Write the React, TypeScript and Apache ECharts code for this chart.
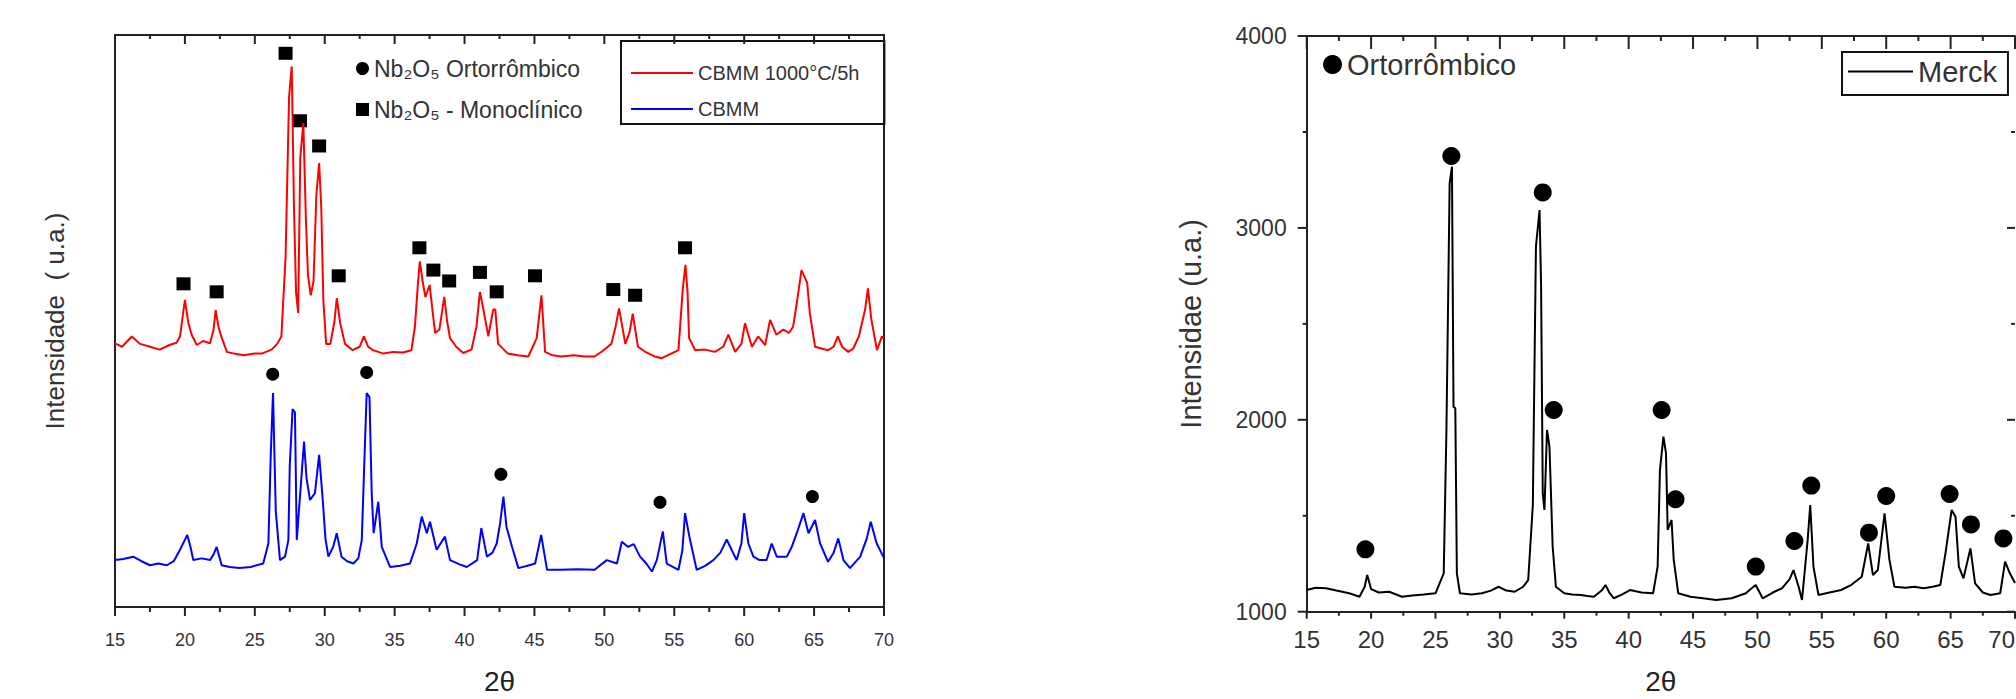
import React, { useEffect, useRef } from "react";
import * as echarts from "echarts";

const FONT = "'Liberation Sans', Arial, sans-serif";

// ---- axes ----
const xMin = 15;
const xMax = 70;
const xStep = 5;
const xMajorTicks = [15, 20, 25, 30, 35, 40, 45, 50, 55, 60, 65, 70];
const xMinorTicks = [17.5, 22.5, 27.5, 32.5, 37.5, 42.5, 47.5, 52.5, 57.5, 62.5, 67.5];

// ---- Left chart: CBMM samples (arbitrary units) ----
const leftYMin = 0;
const leftYMax = 100;

const cbmm1000: [number, number][] = [
  [15.0, 46.1], [15.5, 45.5], [16.2, 47.3], [16.8, 46.0], [17.5, 45.5], [18.2, 45.0], [18.9, 45.8], [19.4, 46.2],
  [19.65, 47.3], [19.85, 51], [20.0, 53.7], [20.25, 49.6], [20.5, 47.5], [20.85, 45.8], [21.3, 46.5], [21.8, 46.1],
  [22.05, 48.5], [22.2, 51.9], [22.4, 49], [22.6, 47.3], [23.0, 44.6], [23.5, 44.3], [24.2, 44.0], [25.0, 44.3],
  [25.5, 44.3], [26.2, 45.0], [26.6, 46], [26.9, 47.3], [27.2, 61.2], [27.45, 89.2], [27.64, 94.5], [27.8, 70],
  [27.95, 55], [28.1, 51.4], [28.25, 78.5], [28.47, 84.6], [28.65, 68], [28.8, 58], [29.0, 54.5], [29.2, 57],
  [29.4, 72], [29.6, 77.6], [29.75, 70], [29.9, 53.7], [30.1, 46.0], [30.4, 46], [30.7, 50], [30.86, 54],
  [31.1, 49.7], [31.45, 46], [32.0, 44.9], [32.5, 45.5], [32.8, 47.3], [33.1, 45.5], [33.45, 44.9], [34.2, 44.3],
  [34.9, 44.6], [35.6, 44.5], [36.2, 44.9], [36.45, 49], [36.65, 56], [36.8, 60.4], [37.0, 57], [37.2, 54.2],
  [37.5, 56.3], [37.7, 52], [37.9, 47.9], [38.2, 48.5], [38.55, 54.2], [38.75, 50], [38.96, 47], [39.4, 45.5],
  [39.9, 44.4], [40.5, 45], [40.85, 49], [41.1, 55.1], [41.35, 52], [41.7, 47.3], [42.05, 52], [42.2, 52],
  [42.4, 46], [43.1, 44.3], [43.8, 44.0], [44.56, 43.8], [45.16, 47], [45.5, 54.5], [45.76, 44.6], [46.3, 44.0],
  [46.9, 43.8], [47.8, 44.0], [48.6, 43.8], [49.3, 43.8], [49.9, 44.8], [50.5, 46], [50.8, 49], [51.05, 52.2],
  [51.5, 46], [51.8, 48], [52.03, 51.3], [52.4, 45.5], [53.0, 44.5], [53.6, 43.8], [54.1, 43.5], [54.7, 44.2],
  [55.3, 44.9], [55.6, 55.4], [55.8, 59.8], [55.95, 55], [56.06, 47], [56.5, 44.9], [57.2, 45.0], [57.9, 44.6],
  [58.5, 45.5], [58.87, 47.6], [59.35, 44.6], [59.8, 46], [60.06, 49.6], [60.55, 45.5], [61.0, 47.3], [61.5, 45.8],
  [61.85, 50.2], [62.3, 47.6], [62.8, 48.5], [63.2, 47.9], [63.5, 49], [63.76, 53.1], [64.1, 58.9], [64.5, 56.7],
  [64.7, 51.3], [65.07, 45.5], [65.5, 45.2], [66.0, 44.9], [66.4, 45.5], [66.7, 47.3], [67.0, 45.5], [67.45, 44.6],
  [67.8, 45.2], [68.2, 47.3], [68.65, 52], [68.85, 55.7], [69.1, 50.2], [69.5, 44.9], [69.85, 47.3], [70.0, 47.0],
];

const cbmm: [number, number][] = [
  [15.0, 8.2], [15.6, 8.4], [16.3, 8.8], [16.9, 8.0], [17.5, 7.3], [18.1, 7.6], [18.7, 7.3], [19.2, 8.0],
  [19.65, 10.0], [20.17, 12.6], [20.4, 10.5], [20.6, 8.2], [21.2, 8.5], [21.8, 8.2], [22.05, 9.2], [22.27, 10.5],
  [22.63, 7.3], [23.2, 7.0], [23.9, 6.8], [24.7, 7.0], [25.6, 7.6], [25.97, 11.1], [26.14, 26.6], [26.3, 37.4],
  [26.5, 16.7], [26.8, 8.2], [27.16, 8.8], [27.4, 11.7], [27.5, 24.8], [27.7, 34.6], [27.87, 34.0], [28.0, 11.7],
  [28.23, 19.3], [28.52, 28.9], [28.7, 22.5], [28.95, 18.7], [29.3, 19.9], [29.6, 26.6], [29.86, 18.7], [30.05, 12],
  [30.26, 8.8], [30.6, 10.5], [30.86, 12.9], [31.2, 8.8], [31.6, 8.0], [32.05, 7.6], [32.4, 8.5], [32.65, 11.7],
  [32.83, 25.1], [33.0, 37.4], [33.2, 36.7], [33.36, 19.9], [33.5, 12.9], [33.83, 18.4], [34.08, 10.5], [34.67, 7.0],
  [35.4, 7.2], [36.1, 7.6], [36.58, 11.1], [36.94, 15.8], [37.3, 12.9], [37.53, 14.9], [38.0, 10.0], [38.6, 12.3],
  [38.96, 8.2], [39.6, 7.5], [40.16, 7.0], [40.9, 8.2], [41.2, 13.8], [41.6, 8.8], [42.0, 9.5], [42.3, 11.1],
  [42.54, 14.6], [42.78, 19.3], [43.0, 14.0], [43.4, 10.5], [43.85, 6.8], [44.5, 7.2], [45.05, 7.6], [45.48, 12.6],
  [45.9, 6.5], [46.9, 6.5], [48.1, 6.6], [49.3, 6.5], [50.17, 8.2], [50.9, 7.6], [51.25, 11.4], [51.7, 10.5],
  [52.1, 11.0], [52.55, 8.8], [53.0, 7.6], [53.4, 6.2], [53.75, 8.2], [54.18, 13.2], [54.46, 7.6], [55.3, 6.5],
  [55.58, 9.9], [55.77, 16.4], [56.08, 12.3], [56.6, 6.5], [57.2, 7.2], [57.8, 8.2], [58.3, 9.5], [58.75, 11.8],
  [59.1, 10], [59.46, 8.2], [59.8, 11.1], [60.0, 16.4], [60.3, 11.1], [60.66, 8.8], [61.1, 8.2], [61.6, 8.2],
  [61.97, 11.1], [62.33, 8.8], [63.05, 8.8], [63.4, 10.5], [63.76, 12.9], [64.24, 16.4], [64.6, 12.9], [65.07, 15.2],
  [65.43, 11.1], [66.0, 7.9], [66.4, 9.5], [66.73, 12.0], [67.1, 8.2], [67.57, 6.8], [68.3, 8.8], [68.77, 12.0],
  [69.05, 14.9], [69.48, 11.1], [69.95, 8.8], [70.0, 8.5],
];

const monoMarks: [number, number][] = [
  [19.9, 56.5], [22.27, 55.1], [27.2, 96.8], [28.23, 85], [29.6, 80.6], [31.0, 57.9], [36.77, 62.8], [37.77, 58.9],
  [38.9, 57], [41.1, 58.5], [42.3, 55.1], [45.04, 57.9], [50.64, 55.5], [52.2, 54.5], [55.77, 62.8],
];
const ortoMarks: [number, number][] = [
  [26.28, 40.7], [33.0, 41.0], [42.6, 23.2], [53.98, 18.3], [64.88, 19.3],
];

// ---- Right chart: Merck ----
const merckYMin = 1000;
const merckYMax = 4000;
const merckYStep = 1000;
const merckYMajorTicks = [1000, 2000, 3000, 4000];
const merckYMinorTicks = [1500, 2500, 3500];

const merck: [number, number][] = [
  [15.0, 1113], [15.7, 1125], [16.5, 1122], [17.3, 1110], [18.3, 1096], [19.1, 1078], [19.5, 1130], [19.7, 1191],
  [20.0, 1118], [20.6, 1100], [21.4, 1104], [22.4, 1078], [23.2, 1085], [24.1, 1090], [25.0, 1096], [25.64, 1200],
  [25.85, 1947], [26.1, 3232], [26.28, 3319], [26.4, 2068], [26.54, 2060], [26.66, 1200], [26.9, 1096], [27.8, 1090],
  [28.6, 1096], [29.3, 1110], [29.9, 1130], [30.5, 1110], [31.15, 1104], [31.8, 1130], [32.2, 1165], [32.56, 1556],
  [32.8, 2902], [33.08, 3093], [33.2, 2702], [33.33, 1617], [33.46, 1530], [33.66, 1947], [33.85, 1860], [34.1, 1339],
  [34.35, 1130], [35.0, 1096], [35.6, 1090], [36.3, 1087], [36.8, 1082], [37.3, 1078], [37.9, 1110], [38.2, 1139],
  [38.5, 1100], [38.85, 1070], [39.5, 1090], [40.1, 1113], [41.0, 1100], [41.9, 1096], [42.25, 1235], [42.43, 1738],
  [42.7, 1912], [42.9, 1825], [43.03, 1426], [43.33, 1478], [43.5, 1270], [43.85, 1096], [44.8, 1078], [45.77, 1070],
  [46.8, 1061], [48.0, 1070], [49.1, 1096], [49.5, 1120], [49.87, 1139], [50.4, 1070], [51.2, 1100], [51.9, 1122],
  [52.5, 1170], [52.8, 1217], [53.2, 1130], [53.46, 1061], [53.9, 1374], [54.1, 1556], [54.35, 1235], [54.74, 1087],
  [55.6, 1100], [56.5, 1113], [57.3, 1140], [58.1, 1182], [58.6, 1356], [58.97, 1191], [59.35, 1217], [59.87, 1513],
  [60.25, 1270], [60.64, 1130], [61.5, 1125], [62.2, 1130], [62.9, 1122], [63.6, 1130], [64.2, 1139], [64.6, 1304],
  [65.08, 1530], [65.38, 1495], [65.64, 1235], [66.0, 1174], [66.54, 1330], [66.9, 1148], [67.5, 1100], [68.1, 1087],
  [68.85, 1096], [69.23, 1261], [69.6, 1200], [70.0, 1150],
];

const merckOrtoMarks: [number, number][] = [
  [19.56, 1325], [26.23, 3375], [33.33, 3185], [34.18, 2051], [42.56, 2051], [43.64, 1586], [49.87, 1235],
  [52.87, 1368], [54.18, 1657], [58.66, 1412], [60.0, 1603], [64.92, 1613], [66.58, 1455], [69.1, 1382],
];

const S_RED = "CBMM 1000°C/5h";
const S_BLUE = "CBMM";
const S_ORTO = "Nb₂O₅ Ortorrômbico";
const S_MONO = "Nb₂O₅ - Monoclínico";
const S_MERCK = "Merck";
const S_MORTO = "Ortorrômbico";

const AX = "#222";

function xAxisCfg(grid: number, top: boolean, opts: any) {
  return {
    type: "value",
    gridIndex: grid,
    position: top ? "top" : "bottom",
    min: xMin,
    max: xMax,
    interval: xStep,
    axisLine: { show: true, onZero: false, lineStyle: { color: AX, width: 2 } },
    axisTick: { show: false },
    minorTick: { show: false },
    axisLabel: top
      ? { show: false }
      : {
          show: true,
          fontSize: opts.fontSize,
          margin: opts.margin,
          color: "#333",
          fontFamily: FONT,
          alignMaxLabel: opts.alignMax || null,
        },
    splitLine: { show: false },
    name: top ? "" : "2θ",
    nameLocation: "middle",
    nameGap: opts.nameGap,
    nameTextStyle: { fontSize: 28, color: "#222", fontFamily: FONT },
  };
}

export default function App() {
  const ref = useRef<HTMLDivElement>(null);
  useEffect(() => {
    if (!ref.current) return;
    const chart = echarts.init(ref.current, undefined, { renderer: "svg" });
    const option: any = {
      animation: false,
      backgroundColor: "#ffffff",
      textStyle: { fontFamily: FONT },
      grid: [
        { left: 115, top: 35, width: 769, height: 572, containLabel: false, outerBoundsMode: "none" },
        { left: 1306.7, top: 36, width: 708.3, height: 575.7, containLabel: false, outerBoundsMode: "none" },
      ],
      xAxis: [
        xAxisCfg(0, false, { fontSize: 18, margin: 24, nameGap: 60 }),
        xAxisCfg(0, true, {}),
        xAxisCfg(1, false, { fontSize: 24, margin: 16, nameGap: 56, alignMax: "right" }),
        xAxisCfg(1, true, {}),
      ],
      yAxis: [
        {
          type: "value",
          gridIndex: 0,
          min: leftYMin,
          max: leftYMax,
          axisLine: { show: true, onZero: false, lineStyle: { color: AX, width: 2 } },
          axisTick: { show: false },
          axisLabel: { show: false },
          splitLine: { show: false },
          name: "Intensidade  ( u.a.)",
          nameLocation: "middle",
          nameGap: 47,
          nameTextStyle: { fontSize: 26, color: "#333", fontFamily: FONT },
        },
        {
          type: "value",
          gridIndex: 0,
          position: "right",
          min: leftYMin,
          max: leftYMax,
          axisLine: { show: true, onZero: false, lineStyle: { color: AX, width: 2 } },
          axisTick: { show: false },
          axisLabel: { show: false },
          splitLine: { show: false },
        },
        {
          type: "value",
          gridIndex: 1,
          min: merckYMin,
          max: merckYMax,
          interval: merckYStep,
          axisLine: { show: true, onZero: false, lineStyle: { color: AX, width: 2 } },
          axisTick: { show: false },
          minorTick: { show: false },
          axisLabel: {
            show: true,
            fontSize: 23,
            margin: 20,
            color: "#333",
            fontFamily: FONT,
            formatter: (v: number) => String(v),
          },
          splitLine: { show: false },
          name: "Intensidae (u.a.)",
          nameLocation: "middle",
          nameGap: 101,
          nameTextStyle: { fontSize: 29, color: "#333", fontFamily: FONT },
        },
        {
          type: "value",
          gridIndex: 1,
          position: "right",
          min: merckYMin,
          max: merckYMax,
          interval: merckYStep,
          axisLine: { show: false },
          axisTick: { show: false },
          axisLabel: { show: false },
          splitLine: { show: false },
        },
      ],
      legend: [
        {
          data: [
            { name: S_RED, icon: "rect" },
            { name: S_BLUE, icon: "rect" },
          ],
          orient: "vertical",
          left: 621,
          top: 41,
          padding: [22, 25, 5, 10],
          itemGap: 16,
          itemWidth: 62,
          itemHeight: 2,
          borderColor: "#111",
          borderWidth: 2,
          textStyle: { fontSize: 20, color: "#333", fontFamily: FONT },
        },
        {
          data: [
            { name: S_ORTO, icon: "circle" },
            { name: S_MONO, icon: "rect" },
          ],
          orient: "vertical",
          left: 356,
          top: 57,
          padding: 0,
          itemGap: 18,
          itemWidth: 13,
          itemHeight: 13,
          textStyle: { fontSize: 23, color: "#333", fontFamily: FONT },
        },
        {
          data: [{ name: S_MERCK, icon: "rect" }],
          orient: "vertical",
          left: 1842,
          top: 52,
          padding: [5, 11, 9, 6],
          itemWidth: 65,
          itemHeight: 2,
          borderColor: "#111",
          borderWidth: 2,
          textStyle: { fontSize: 29, color: "#333", fontFamily: FONT },
        },
        {
          data: [{ name: S_MORTO, icon: "circle" }],
          orient: "vertical",
          left: 1323,
          top: 50,
          padding: 0,
          itemWidth: 19,
          itemHeight: 19,
          textStyle: { fontSize: 29, color: "#333", fontFamily: FONT },
        },
      ],
      series: [
        {
          name: S_RED,
          type: "line",
          xAxisIndex: 0,
          yAxisIndex: 0,
          data: cbmm1000,
          symbol: "none",
          color: "#ff0000",
          lineStyle: { color: "#ff0000", width: 2 },
        },
        {
          name: S_BLUE,
          type: "line",
          xAxisIndex: 0,
          yAxisIndex: 0,
          data: cbmm,
          symbol: "none",
          color: "#0000ff",
          lineStyle: { color: "#0000ff", width: 2 },
        },
        {
          name: S_ORTO,
          type: "scatter",
          xAxisIndex: 0,
          yAxisIndex: 0,
          data: ortoMarks,
          symbol: "circle",
          symbolSize: 13,
          itemStyle: { color: "#000", opacity: 1 },
        },
        {
          name: S_MONO,
          type: "scatter",
          xAxisIndex: 0,
          yAxisIndex: 0,
          data: monoMarks,
          symbol: "rect",
          symbolSize: [14, 13],
          itemStyle: { color: "#000", opacity: 1 },
        },
        {
          name: S_MERCK,
          type: "line",
          xAxisIndex: 2,
          yAxisIndex: 2,
          data: merck,
          symbol: "none",
          color: "#000",
          lineStyle: { color: "#000", width: 2 },
        },
        {
          name: S_MORTO,
          type: "scatter",
          xAxisIndex: 2,
          yAxisIndex: 2,
          data: merckOrtoMarks,
          symbol: "circle",
          symbolSize: 18,
          itemStyle: { color: "#000", opacity: 1 },
        },
      ],
    };
    chart.setOption(option);

    // Tick marks, placed through the chart's own axis scales.
    const ticks: any[] = [];
    const tickRect = (x: number, y: number, w: number, h: number) =>
      ticks.push({ type: "rect", silent: true, z: 100, shape: { x, y, width: w, height: h }, style: { fill: AX } });

    const addXTicks = (gridIndex: number, yLo: number, yHi: number, len: any) => {
      const all: [number, boolean][] = [
        ...xMajorTicks.map((v) => [v, true] as [number, boolean]),
        ...xMinorTicks.map((v) => [v, false] as [number, boolean]),
      ];
      all.forEach(([v, major]) => {
        const pb = chart.convertToPixel({ gridIndex }, [v, yLo]) as number[];
        const pt = chart.convertToPixel({ gridIndex }, [v, yHi]) as number[];
        if (!pb || !pt) return;
        tickRect(pb[0] - 1, pb[1], 2, major ? len.bMaj : len.bMin);
        tickRect(pt[0] - 1, pt[1], 2, major ? len.tMaj : len.tMin);
      });
    };
    const addYTicks = (gridIndex: number, xLo: number, xHi: number, len: any) => {
      const all: [number, boolean][] = [
        ...merckYMajorTicks.map((v) => [v, true] as [number, boolean]),
        ...merckYMinorTicks.map((v) => [v, false] as [number, boolean]),
      ];
      all.forEach(([v, major]) => {
        const pl = chart.convertToPixel({ gridIndex }, [xLo, v]) as number[];
        const pr = chart.convertToPixel({ gridIndex }, [xHi, v]) as number[];
        if (!pl || !pr) return;
        const ll = major ? len.lMaj : len.lMin;
        const lr = major ? len.rMaj : len.rMin;
        tickRect(pl[0] - ll, pl[1] - 1, ll, 2);
        tickRect(pr[0] - lr, pr[1] - 1, lr, 2);
      });
    };
    addXTicks(0, leftYMin, leftYMax, { bMaj: 9, bMin: 5, tMaj: 9, tMin: 4 });
    addXTicks(1, merckYMin, merckYMax, { bMaj: 7, bMin: 4, tMaj: 13, tMin: 5 });
    addYTicks(1, xMin, xMax, { lMaj: 9, lMin: 4, rMaj: 8, rMin: 4 });
    chart.setOption({ graphic: ticks });

    return () => chart.dispose();
  }, []);
  return (
    <div
      ref={ref}
      style={{ position: "absolute", left: 0, top: 0, width: 2016, height: 699, background: "#fff" }}
    />
  );
}
